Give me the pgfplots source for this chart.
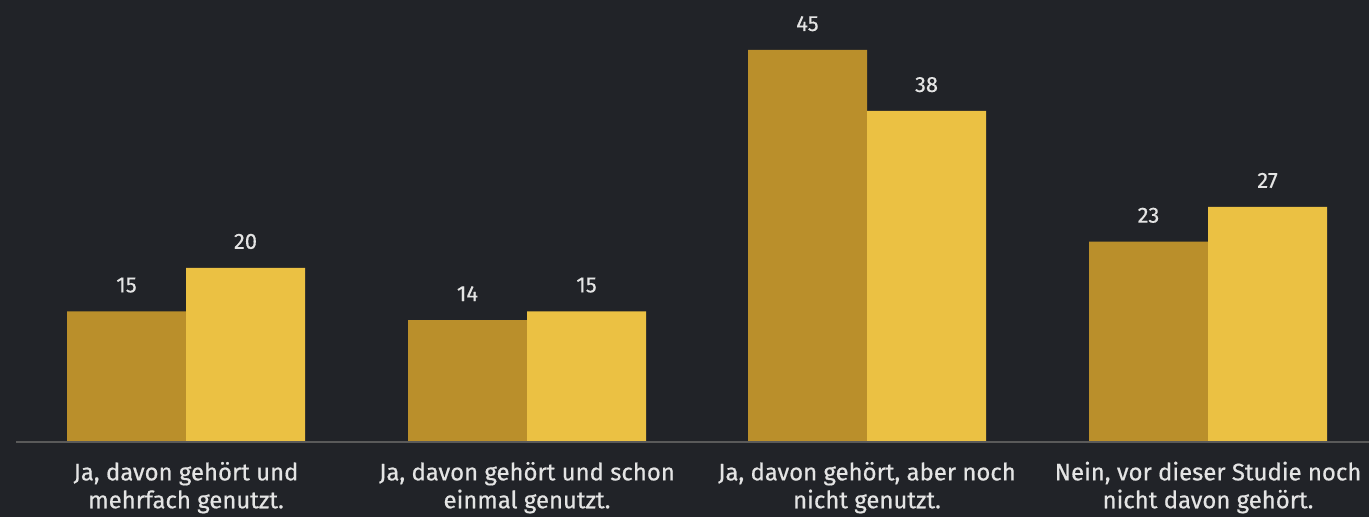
\documentclass[border=0pt]{standalone}
\usepackage{pgfplots}
\pgfplotsset{compat=1.18}
\usetikzlibrary{backgrounds}
\usepackage{fontspec}
\setmainfont{Fira Sans}
\definecolor{bg}{HTML}{212328}
\definecolor{cA}{HTML}{BA8F2B}
\definecolor{cB}{HTML}{EBC143}
\definecolor{txt}{HTML}{E4E4E4}
\definecolor{base}{HTML}{5A5A5A}
\begin{document}
\begin{tikzpicture}
\begin{axis}[
  width=1369bp, height=442bp, scale only axis,
  xmin=0, xmax=1369, ymin=0, ymax=50.74,
  enlargelimits=false,
  axis line style={draw=none}, tick style={draw=none},
  ytick=\empty,
  xtick={186,527,867,1208},
  xticklabels={{Ja, davon gehört und\\mehrfach genutzt.},{Ja, davon gehört und schon\\einmal genutzt.},{Ja, davon gehört, aber noch\\nicht genutzt.},{Nein, vor dieser Studie noch\\nicht davon gehört.}},
  xticklabel style={align=center, anchor=base, yshift=-62bp, text=txt, font=\fontsize{24}{28}\selectfont\addfontfeatures{FakeBold=0.6}},
  ybar, bar width=119bp,
  nodes near coords,
  /pgf/number format/assume math mode=true,
  every node near coord/.append style={anchor=base, yshift=19bp, text=txt, font=\fontsize{22}{26}\selectfont\addfontfeatures{FakeBold=0.4}},
  clip=false,
]
\addplot[fill=cA, draw=none, bar shift=0pt] coordinates {(126.5,15) (467.5,14) (807.5,45) (1148.5,23)};
\addplot[fill=cB, draw=none, bar shift=0pt] coordinates {(245.5,20) (586.5,15) (926.5,38) (1267.5,27)};
\draw[base, line width=1.3bp] (axis cs:16,0) -- (axis cs:1369,0);
\coordinate (LL) at (axis cs:0,-8.61);
\coordinate (UR) at (axis cs:1369,50.74);
\end{axis}
\begin{pgfonlayer}{background}
\fill[bg] (LL) rectangle (UR);
\end{pgfonlayer}
\pgfresetboundingbox
\useasboundingbox (LL) rectangle (UR);
\end{tikzpicture}
\end{document}
